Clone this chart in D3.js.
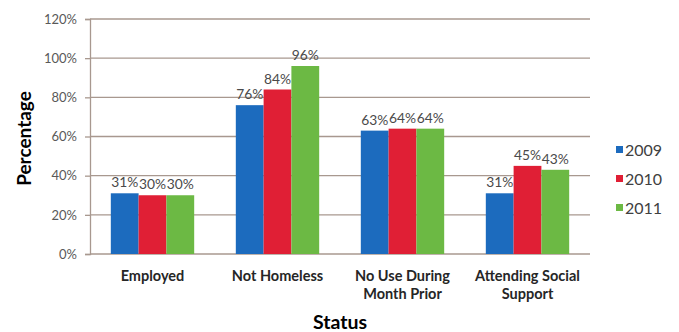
<!DOCTYPE html>
<html>
<head>
<meta charset="utf-8">
<script src="https://cdn.jsdelivr.net/npm/d3@7"></script>
<style>
  html, body { margin: 0; padding: 0; background: #ffffff; }
  svg { display: block; font-family: Lato, "Open Sans", sans-serif; }
</style>
</head>
<body>
<svg id="chart" width="679" height="332"></svg>
<script>
// Status categories (line breaks split with "\n")
const categories = ["Employed", "Not Homeless", "No Use During\nMonth Prior", "Attending Social\nSupport"];
const years = ["2009", "2010", "2011"];
const values2009 = [31, 76, 63, 31];
const values2010 = [30, 84, 64, 45];
const values2011 = [30, 96, 64, 43];
const yTicks = [0, 20, 40, 60, 80, 100, 120];
const colors = ["#1c6bbe", "#e01f35", "#6cb944"];

const series = [values2009, values2010, values2011];

const svg = d3.select("#chart");
const margin = { left: 90, right: 89, top: 19, bottom: 78 };
const W = 679, H = 332;
const plotW = W - margin.left - margin.right;
const plotH = H - margin.top - margin.bottom;

const g = svg.append("g").attr("transform", `translate(${margin.left},${margin.top})`);

const x0 = d3.scaleBand().domain(categories).range([0, plotW]).paddingInner(0.333).paddingOuter(0.1665);
const x1 = d3.scaleBand().domain(years).range([0, x0.bandwidth()]);
const y = d3.scaleLinear().domain([0, 120]).range([plotH, 0]);

// Horizontal gridlines
g.append("g").selectAll("line").data(yTicks).join("line")
  .attr("x1", 0).attr("x2", plotW)
  .attr("y1", d => y(d)).attr("y2", d => y(d))
  .attr("stroke", "#a8988f").attr("stroke-width", 1.3);

// Y axis
const yAxis = d3.axisLeft(y).tickValues(yTicks).tickFormat(d => d + "%").tickSize(5).tickPadding(8);
const ya = g.append("g").call(yAxis);
ya.select(".domain").attr("stroke", "#a8988f").attr("stroke-width", 1.3);
ya.selectAll(".tick line").attr("stroke", "#a8988f").attr("stroke-width", 1.3);
ya.selectAll(".tick text").attr("fill", "#595959").attr("font-size", 13).attr("font-family", "Lato, sans-serif");

// Bars
const groups = g.append("g").selectAll("g").data(categories).join("g")
  .attr("transform", d => `translate(${x0(d)},0)`);

groups.each(function(cat, ci) {
  const grp = d3.select(this);
  years.forEach((yr, si) => {
    const v = series[si][ci];
    grp.append("rect")
      .attr("x", x1(yr)).attr("width", x1.bandwidth())
      .attr("y", y(v)).attr("height", plotH - y(v))
      .attr("fill", colors[si]);
    grp.append("text")
      .attr("x", x1(yr) + x1.bandwidth() / 2)
      .attr("y", y(v) - 6)
      .attr("text-anchor", "middle")
      .attr("font-size", 13.8)
      .attr("fill", "#4a4a4a")
      .text(v + "%");
  });
});

// Category labels
const xl = g.append("g").attr("transform", `translate(0,${plotH})`);
categories.forEach(cat => {
  const lines = cat.split("\n");
  const t = xl.append("text")
    .attr("x", x0(cat) + x0.bandwidth() / 2)
    .attr("y", 27)
    .attr("text-anchor", "middle")
    .attr("font-size", 14.5)
    .attr("font-weight", "bold")
    .attr("fill", "#262626");
  lines.forEach((ln, i) => {
    t.append("tspan").attr("x", x0(cat) + x0.bandwidth() / 2).attr("dy", i === 0 ? 0 : 18).text(ln);
  });
});

// Axis titles
svg.append("text")
  .attr("transform", `translate(31,${margin.top + plotH / 2 + 2}) rotate(-90)`)
  .attr("text-anchor", "middle")
  .attr("font-size", 19).attr("font-weight", "bold").attr("fill", "#000")
  .text("Percentage");

svg.append("text")
  .attr("x", margin.left + plotW / 2)
  .attr("y", 329)
  .attr("text-anchor", "middle")
  .attr("font-size", 19.5).attr("font-weight", "bold").attr("fill", "#000")
  .text("Status");

// Legend
const legend = svg.append("g").attr("transform", "translate(616,150)");
years.forEach((yr, i) => {
  const row = legend.append("g").attr("transform", `translate(0,${i * 29})`);
  row.append("rect").attr("x", 0).attr("y", -4).attr("width", 7).attr("height", 7).attr("fill", colors[i]);
  row.append("text").attr("x", 9).attr("y", 0).attr("dy", "0.35em")
    .attr("font-size", 16).attr("fill", "#404040").text(yr);
});
</script>
</body>
</html>
